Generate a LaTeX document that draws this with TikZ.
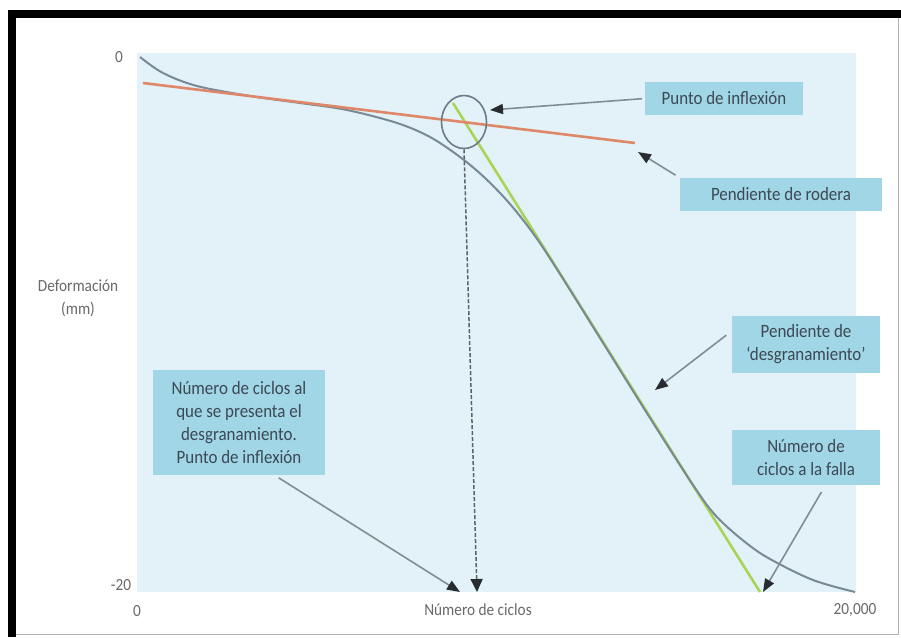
\documentclass[tikz,border=0pt]{standalone}
\usepackage{fontspec}
\setmainfont{Carlito}
\newfontfamily\narrowfont[FakeStretch=0.9,Ligatures=TeX]{Carlito}
\usetikzlibrary{arrows.meta,shapes.geometric}
\definecolor{plotbg}{RGB}{226,242,248}
\definecolor{boxbg}{RGB}{160,214,230}
\definecolor{boxtxt}{RGB}{60,72,82}
\definecolor{axtxt}{RGB}{105,105,105}
\definecolor{curvegray}{RGB}{120,138,150}
\definecolor{rodera}{RGB}{222,135,105}
\definecolor{desgr}{RGB}{170,212,85}
\definecolor{arrline}{RGB}{130,140,148}
\definecolor{arrtip}{RGB}{40,44,48}
\begin{document}
\begin{tikzpicture}[x=1pt,y=-1pt,
  lbl/.style={fill=boxbg, text=boxtxt, font=\narrowfont\fontsize{18.8}{23}\selectfont, inner sep=0pt, align=center},
  ax/.style={text=axtxt, font=\narrowfont\fontsize{17}{23}\selectfont, inner sep=0pt},
  pointer/.style={draw=arrline, line width=1.6pt, -{Triangle[length=13pt,width=10pt,color=arrtip]}},
  dashpointer/.style={draw=arrline!70!black, line width=1.5pt, dash pattern=on 4pt off 2pt, -{Triangle[length=13pt,width=12pt,color=arrtip]}}]
\useasboundingbox (0,0) rectangle (901,637);
\fill[white] (0,0) rectangle (901,637);
% frame
\fill[black] (8,10) rectangle (901,18);
\fill[black] (8,10) rectangle (16,637);
\draw[black!30, line width=1pt] (898,18) -- (898,634) -- (16,634);
% plot area
\fill[plotbg] (137,53) rectangle (856,592);
% axis labels
\node[ax] (y0) at (119,57) {0};
\node[ax] (ym) at (121,585) {-20};
\node[ax] (x0) at (137,611) {0};
\node[ax] (xlab) at (478,610) {Número de ciclos};
\node[ax] (xmax) at (855,610) {20,000};
\node[ax, align=center] (ylab) at (78,298) {Deformación\\(mm)};
% curves
\draw[desgr, line width=2.6pt] (453,103) -- (760,592);
\draw[curvegray, line width=2pt] plot[smooth, tension=0.55] coordinates {(140,57) (163,73) (197,86) (250,96) (300,103) (347,110) (397,123) (430,137) (460,157) (485,178) (510,204) (535,236) (560,274) (600,338) (650,418) (695,488) (717,517) (745,542) (770,559) (813,580) (855,592)};
\draw[rodera, line width=2.6pt] (143,83) -- (635,143);
% circle
\node[draw=curvegray!90!black, line width=1.6pt, ellipse, minimum width=45pt, minimum height=53pt, inner sep=0pt] (circ) at (464,122) {};
% label boxes
\node[lbl, minimum width=158pt, minimum height=33pt] (pi) at (724,98.5) {Punto de inflexión};
\node[lbl, minimum width=202pt, minimum height=33pt] (pr) at (781,194.5) {Pendiente de rodera};
\node[lbl, minimum width=148pt, minimum height=57pt] (pd) at (806,344) {Pendiente de\\‘desgranamiento’};
\node[lbl, minimum width=148pt, minimum height=55pt] (pf) at (806,457.5) {Número de\\ciclos a la falla};
\node[lbl, minimum width=172pt, minimum height=105pt] (pc) at (239,422.5) {Número de ciclos al\\que se presenta el\\desgranamiento.\\Punto de inflexión};
% arrow targets
\coordinate (t1) at (490,110);
\coordinate (t2) at (638,152);
\coordinate (t3) at (655,390);
\coordinate (t4) at (763,592);
\coordinate (t5) at (460,592);
\coordinate (t6) at (477,592);
% pointers
\draw[pointer, shorten <=3pt] (pi.west) -- (t1);
\draw[pointer, shorten <=5pt] (pr.north west) -- (t2);
\draw[pointer, shorten <=7pt] (pd.170) -- (t3);
\draw[pointer, shorten <=8pt] (pf.-55) -- (t4);
\draw[pointer, shorten <=5pt] (pc.-56) -- (t5);
\draw[dashpointer] (circ.south) -- (t6);
\end{tikzpicture}
\end{document}
